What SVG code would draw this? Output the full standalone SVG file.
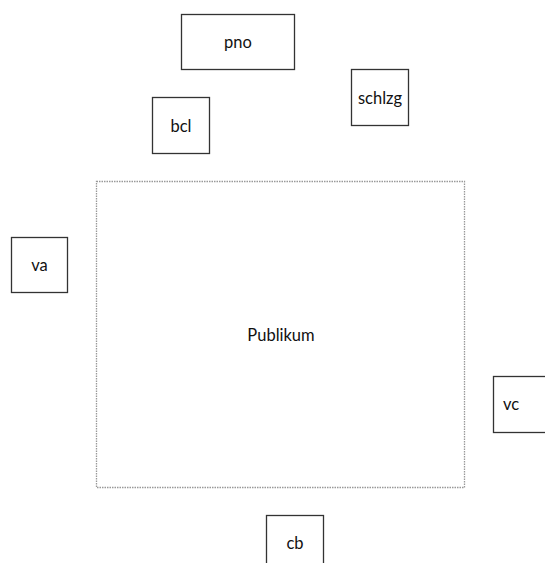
<svg xmlns="http://www.w3.org/2000/svg" width="545" height="563" viewBox="0 0 545 563">
<style>
.n{fill:#fff;stroke:#333;stroke-width:1.3}
.t{font-family:Lato,"Open Sans","Liberation Sans",sans-serif;font-size:16.5px;fill:#111;text-anchor:middle;dominant-baseline:central}
.area{fill:none;stroke:#999;stroke-width:1.3;stroke-dasharray:1.5 1}
</style>
<rect width="545" height="563" fill="#fff"/>
<g id="connectors"></g>
<g id="publikum"><rect class="area" x="96.5" y="181.5" width="368" height="306"/><text class="t" x="281" y="335">Publikum</text></g>
<g id="pno"><rect class="n" x="181.5" y="14.5" width="113" height="55"/><text class="t" x="238" y="42">pno</text></g>
<g id="schlzg"><rect class="n" x="351.5" y="69.5" width="57" height="56"/><text class="t" x="380" y="98">schlzg</text></g>
<g id="bcl"><rect class="n" x="152.5" y="97.5" width="57" height="56"/><text class="t" x="181" y="126">bcl</text></g>
<g id="va"><rect class="n" x="11.5" y="237.5" width="56" height="55"/><text class="t" x="39.5" y="265">va</text></g>
<g id="vc"><rect class="n" x="493.5" y="376.5" width="57" height="56"/><text class="t" x="511" y="404">vc</text></g>
<g id="cb"><rect class="n" x="266.5" y="515.5" width="57" height="56"/><text class="t" x="295" y="543">cb</text></g>
</svg>
